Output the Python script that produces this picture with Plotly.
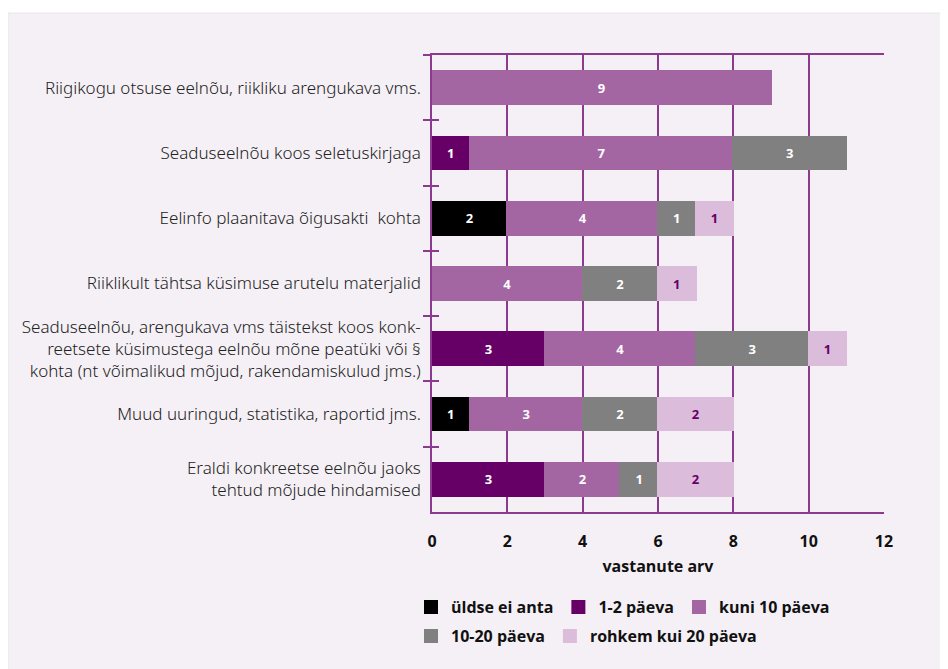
import plotly.graph_objects as go

categories = [
    "Riigikogu otsuse eelnõu, riikliku arengukava vms.",
    "Seaduseelnõu koos seletuskirjaga",
    "Eelinfo plaanitava õigusakti  kohta",
    "Riiklikult tähtsa küsimuse arutelu materjalid",
    "Seaduseelnõu, arengukava vms täistekst koos konk-<br>reetsete küsimustega eelnõu mõne peatüki või §<br>kohta (nt võimalikud mõjud, rakendamiskulud jms.)",
    "Muud uuringud, statistika, raportid jms.",
    "Eraldi konkreetse eelnõu jaoks<br>tehtud mõjude hindamised",
]

series_names = ["üldse ei anta", "1-2 päeva", "kuni 10 päeva", "10-20 päeva", "rohkem kui 20 päeva"]
uldse_ei_anta = [None, None, 2, None, None, 1, None]
paeva_1_2 = [None, 1, None, None, 3, None, 3]
kuni_10 = [9, 7, 4, 4, 4, 3, 2]
paeva_10_20 = [None, 3, 1, 2, 3, 2, 1]
rohkem_20 = [None, None, 1, 1, 1, 2, 2]

series_values = [uldse_ei_anta, paeva_1_2, kuni_10, paeva_10_20, rohkem_20]
colors = ["#000000", "#660066", "#a366a3", "#808080", "#dbbcdb"]
text_colors = ["#ffffff", "#ffffff", "#ffffff", "#ffffff", "#660066"]
legend_rows = ["legend", "legend", "legend", "legend2", "legend2"]

x_ticks = [0, 2, 4, 6, 8, 10, 12]

OFF = 8  # page body margin
W, H = 948 - OFF, 669 - OFF
ML = 432 - OFF
MT = 55 - OFF
MR = W - (884 - OFF)
MB = H - (512 - OFF)
grid = "#8b3a8f"
pw = W - ML - MR
ph = H - MT - MB

bold = dict(family="Open Sans", size=16, color="#111111", weight="bold")

fig = go.Figure()
for name, vals, c, tc, lg in zip(series_names, series_values, colors, text_colors, legend_rows):
    fig.add_trace(go.Bar(
        y=categories, x=vals, name=name, orientation="h",
        marker=dict(color=c, line=dict(width=2, color=c)),
        text=vals, texttemplate="%{x}", textposition="inside",
        insidetextanchor="middle", textangle=0,
        textfont=dict(family="Open Sans", size=13, color=tc, weight="bold"),
        hoverinfo="skip", legend=lg,
    ))

# helper trace so the overlay axis draws the inner half of the category ticks
fig.add_trace(go.Scatter(
    y=categories, x=[None] * len(categories), yaxis="y2", mode="markers",
    showlegend=False, hoverinfo="skip",
))

def py(y):
    return -((y - OFF) - MT - ph) / ph

# card background
fig.add_shape(type="rect", xref="paper", yref="paper", layer="below",
              x0=(8 - OFF - ML) / pw, x1=(W + 5 - ML) / pw,
              y0=py(H + OFF + 5), y1=py(13),
              fillcolor="#f5f0f6", line=dict(color="#e6e6e6", width=1))

lx = (411 - OFF - ML) / pw
fig.update_layout(
    width=W, height=H,
    margin=dict(l=ML, r=MR, t=MT, b=MB, autoexpand=False),
    paper_bgcolor="#ffffff",
    plot_bgcolor="rgba(0,0,0,0)",
    barmode="stack",
    bargap=0.5,
    showlegend=True,
    font=dict(family="Noto Sans", color="#1a1a1a"),
    legend=dict(
        orientation="h", x=lx, xanchor="left", y=py(607), yanchor="middle",
        font=bold, traceorder="normal", bgcolor="rgba(0,0,0,0)",
    ),
    legend2=dict(
        orientation="h", x=lx, xanchor="left", y=py(636), yanchor="middle",
        font=bold, traceorder="normal", bgcolor="rgba(0,0,0,0)",
    ),
    xaxis=dict(
        range=[0, 12], tickvals=x_ticks, ticktext=[str(t) for t in x_ticks],
        showgrid=True, gridcolor=grid, gridwidth=1.5,
        showline=True, linecolor=grid, linewidth=1.5, mirror=True,
        zeroline=False, ticks="", ticklabelstandoff=14,
        tickfont=bold,
        title=dict(text="vastanute arv", standoff=10, font=bold),
        layer="below traces",
    ),
    yaxis=dict(
        categoryorder="array", categoryarray=categories, autorange="reversed",
        showline=True, linecolor=grid, linewidth=1.5,
        ticks="outside", ticklen=7, tickcolor=grid, tickwidth=1.5,
        tickson="boundaries", showgrid=False,
        tickfont=dict(family="Noto Sans", size=17, color="#222222", weight=300),
        ticklabelstandoff=6,
    ),
    yaxis2=dict(
        overlaying="y", matches="y", side="left",
        categoryorder="array", categoryarray=categories,
        showline=False, showgrid=False, zeroline=False,
        ticks="inside", ticklen=7, tickcolor=grid, tickwidth=1.5,
        tickson="boundaries", showticklabels=False,
    ),
)

fig.write_html("out.html")
